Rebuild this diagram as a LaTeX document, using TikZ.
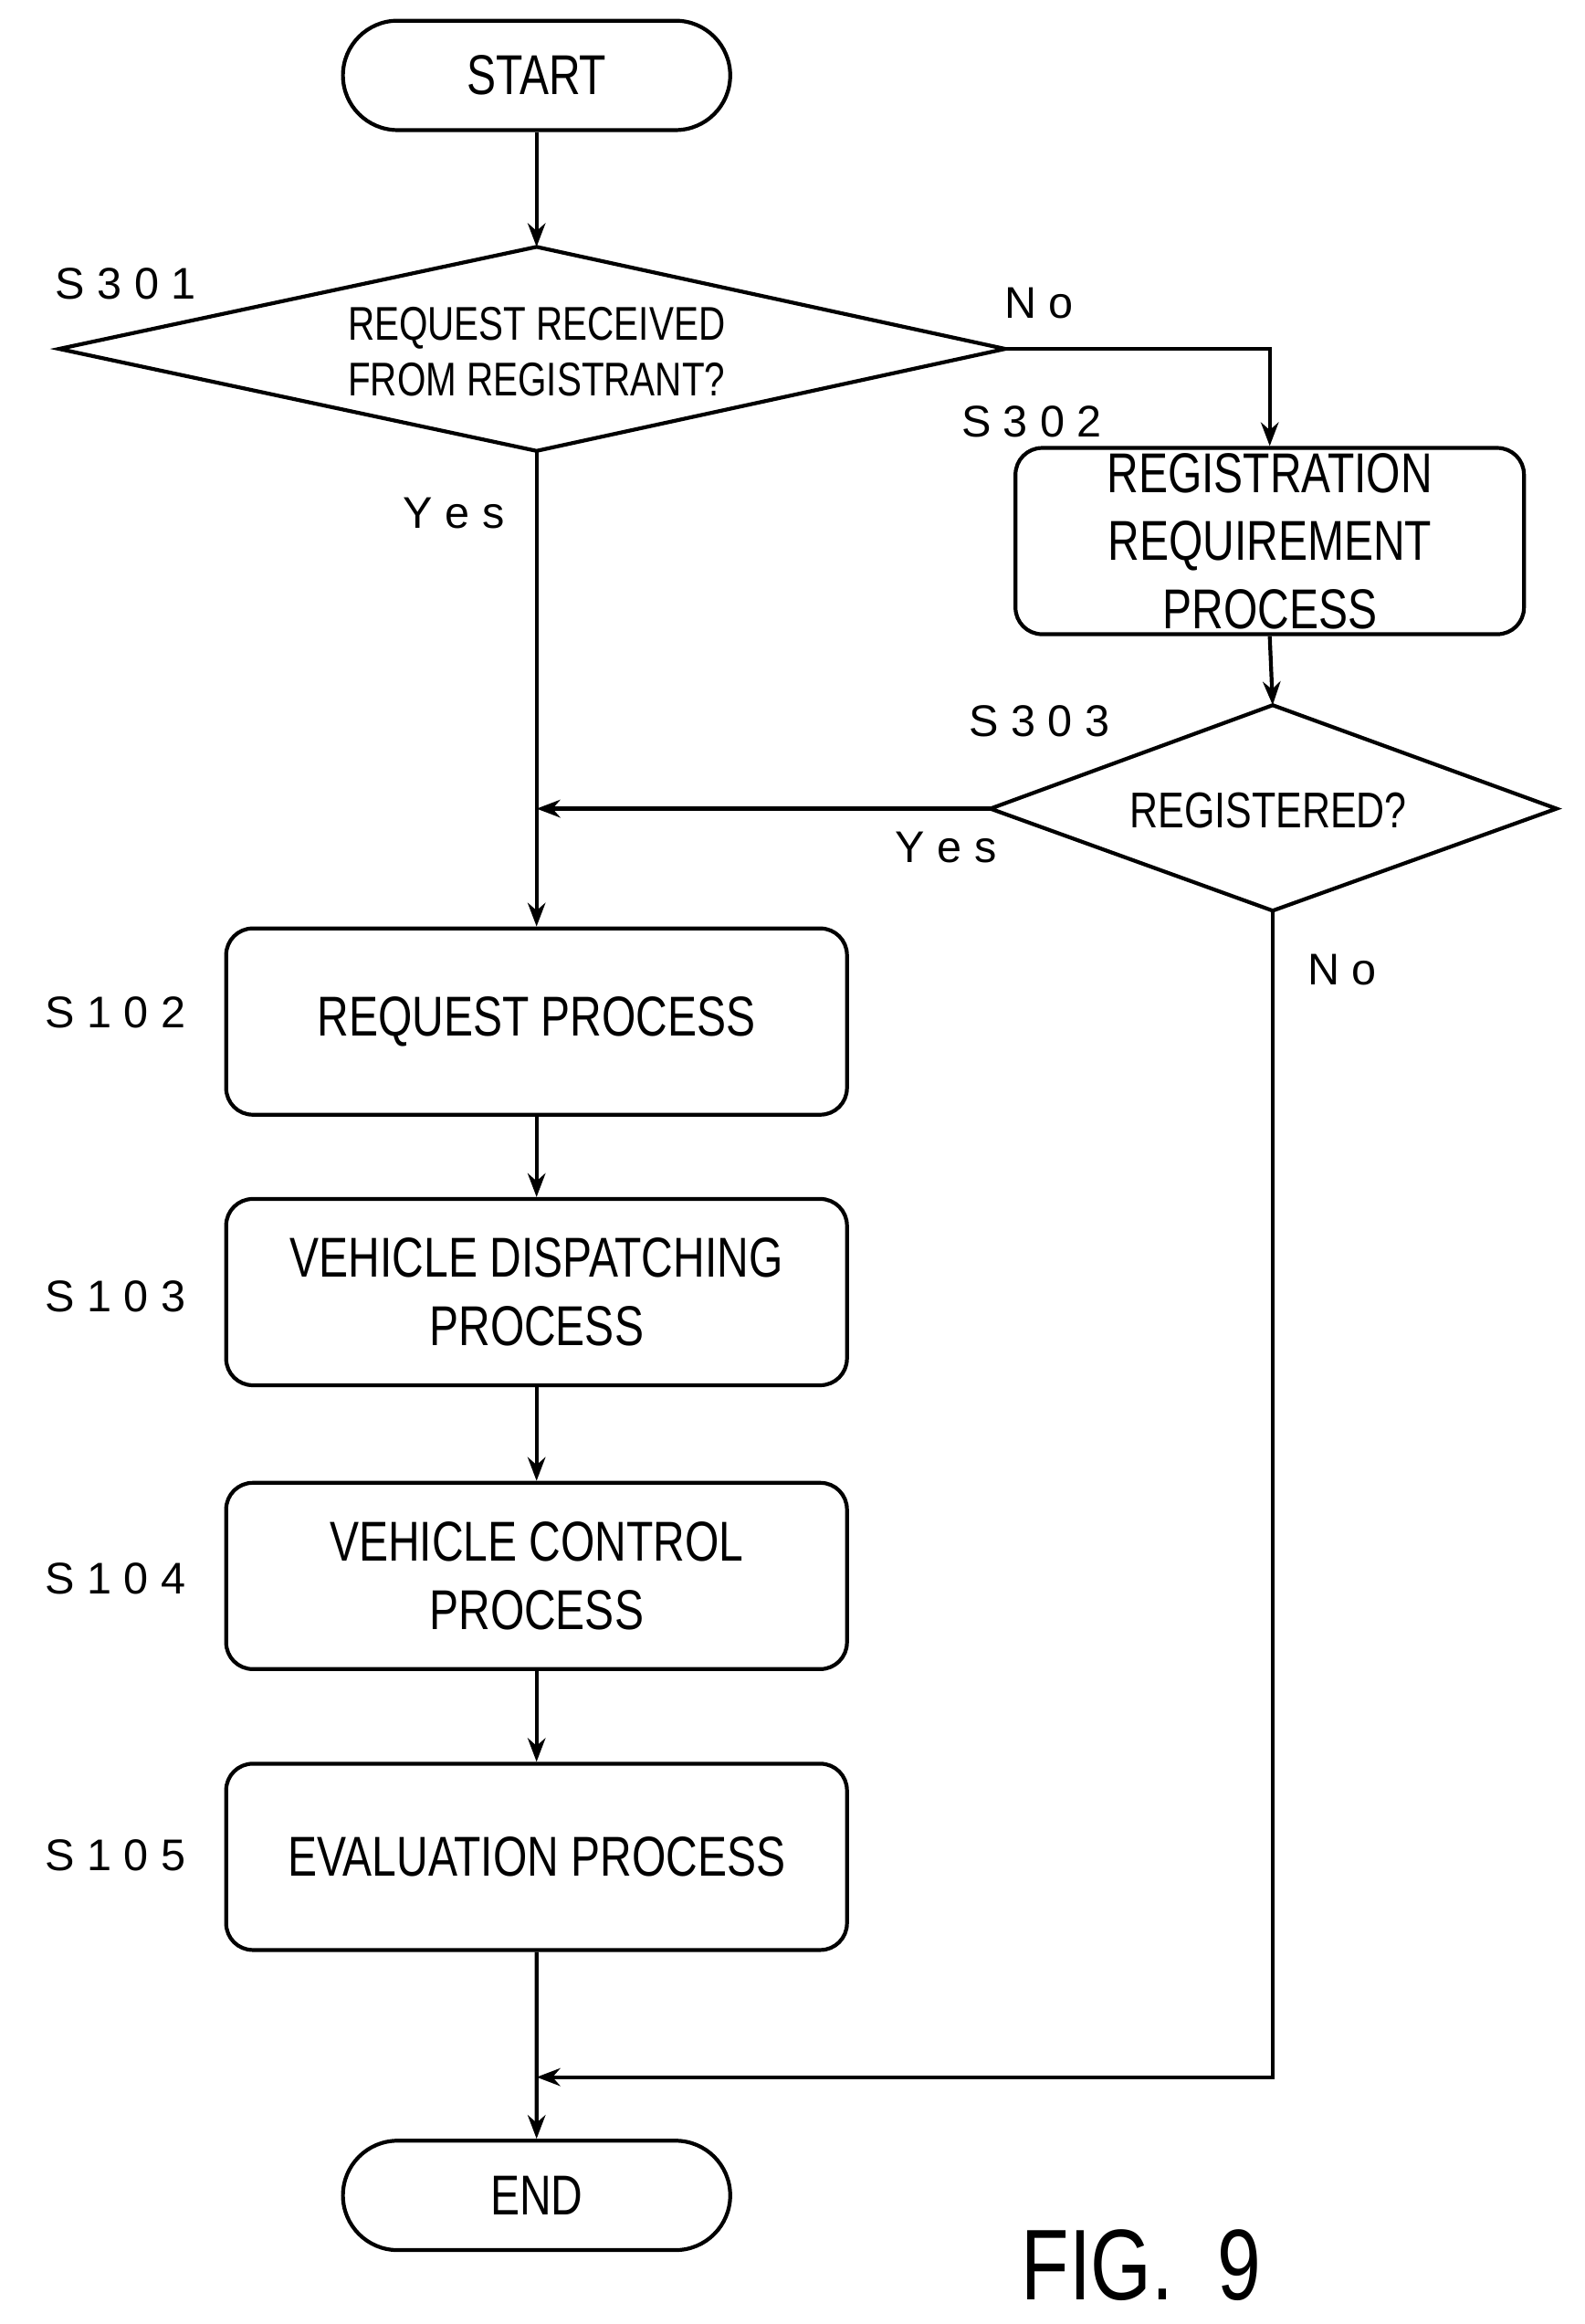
\documentclass[tikz,border=0pt]{standalone}
\usepackage{fontspec}
\setmainfont{Liberation Sans}[FakeStretch=0.78]
\newfontfamily\lab{Liberation Sans}
\usetikzlibrary{shapes.geometric,arrows.meta}
\begin{document}
\begin{tikzpicture}[x=0.5pt,y=-0.5pt,line width=1.3pt,
  box/.style={draw,rounded corners=9pt,minimum width=210pt,minimum height=63pt,align=center,font=\fontsize{19}{23}\selectfont,inner sep=0pt},
  term/.style={draw,rounded rectangle,minimum width=131pt,minimum height=37pt,font=\fontsize{19}{23}\selectfont,inner sep=0pt},
  lb/.style={font=\lab\fontsize{15}{18}\selectfont},
  arr/.style={-{Stealth[length=8pt,width=6pt]}}]
\useasboundingbox (0,0) rectangle (1072,1572);
\usetikzlibrary{shapes.misc}
\node[term] (st) at (363,51) {START};
\coordinate (d1l) at (40,236); \coordinate (d1r) at (680,236); \coordinate (d1t) at (363,167); \coordinate (d1b) at (363,305);
\draw (d1l)--(d1t)--(d1r)--(d1b)--cycle;
\node[align=center,font=\fontsize{16}{19}\selectfont] (d1) at (363,238) {REQUEST RECEIVED\\FROM REGISTRANT?};
\node[box,minimum width=172pt] (s302) at (859,366) {REGISTRATION\\REQUIREMENT\\PROCESS};
\coordinate (d2l) at (670,547); \coordinate (d2r) at (1053,547); \coordinate (d2t) at (861,477); \coordinate (d2b) at (861,616);
\draw (d2l)--(d2t)--(d2r)--(d2b)--cycle;
\node[font=\fontsize{17}{20}\selectfont] (d2) at (858,548) {REGISTERED?};
\node[box] (s102) at (363,691) {REQUEST PROCESS};
\node[box] (s103) at (363,874) {VEHICLE DISPATCHING\\PROCESS};
\node[box] (s104) at (363,1066) {VEHICLE CONTROL\\PROCESS};
\node[box] (s105) at (363,1256) {EVALUATION PROCESS};
\node[term] (en) at (363,1485) {END};
\coordinate (j1) at (363,547); \coordinate (j2) at (363,1405);
\draw[arr] (st)--(d1t);
\draw[arr] (d1r)-|(s302.north);
\draw[arr] (s302.south)--(d2t);
\draw[arr] (d1b)--(s102.north);
\draw[arr] (d2l)--(j1);
\draw[arr] (s102)--(s103); \draw[arr] (s103)--(s104); \draw[arr] (s104)--(s105);
\draw[arr] (s105)--(en);
\draw[arr] (d2b)|-(j2);
\node[lb] (l301) at (85,192) {S 3 0 1};
\node[lb] (l302) at (698,285) {S 3 0 2};
\node[lb] (l303) at (703,488) {S 3 0 3};
\node[lb] (l102) at (78,685) {S 1 0 2};
\node[lb] (l103) at (78,877) {S 1 0 3};
\node[lb] (l104) at (78,1068) {S 1 0 4};
\node[lb] (l105) at (78,1255) {S 1 0 5};
\node[lb] (n1) at (703,205) {N o};
\node[lb] (y1) at (307,347) {Y e s};
\node[lb] (y2) at (640,573) {Y e s};
\node[lb] (n2) at (908,656) {N o};
\node[font=\fontsize{34}{38}\selectfont] (fig) at (772,1532) {FIG.\ \ 9};
\end{tikzpicture}
\end{document}
